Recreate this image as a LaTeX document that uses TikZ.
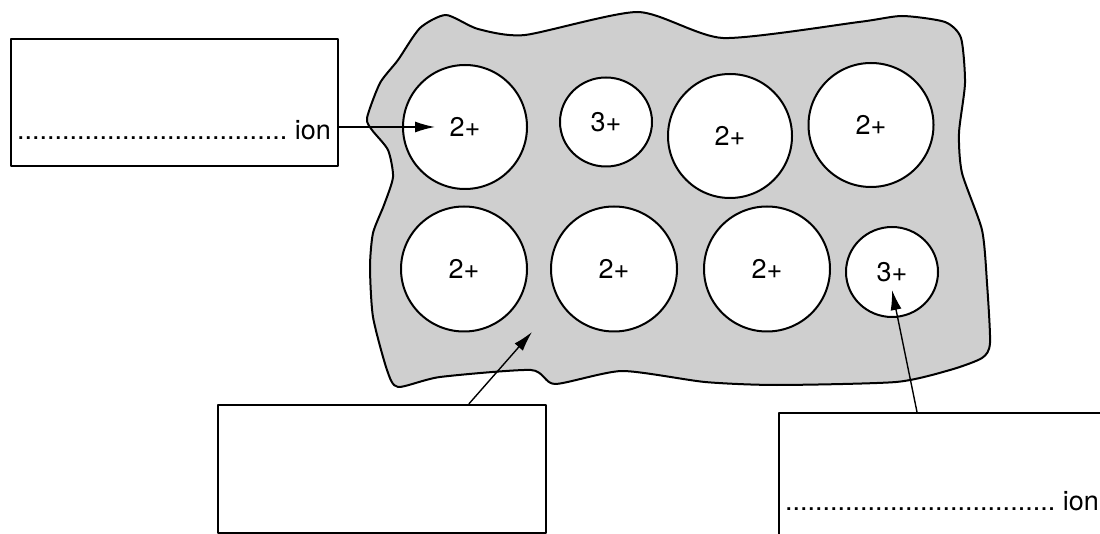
\documentclass[tikz,border=0pt]{standalone}
\usepackage{fontspec}
\setmainfont{TeX Gyre Heros}
\usetikzlibrary{shapes.geometric,arrows.meta}
\definecolor{matgray}{gray}{0.81}
\newcommand{\dotrow}{....................................}

\begin{document}
\begin{tikzpicture}[x=1pt,y=-1pt,line join=round,
    font=\fontsize{27pt}{32pt}\selectfont,
    ionsty/.style={ellipse,draw,line width=2pt,fill=white,inner sep=0pt},
    boxsty/.style={rectangle,draw,line width=1.6pt,anchor=north west,inner sep=0pt},
    arr/.style={line width=1.4pt,-{Latex[length=20pt,width=11pt]}}]
        \clip (0,0) rectangle (1100,534);
        % sea of electrons
        \filldraw[fill=matgray,line width=2pt] plot[smooth cycle,tension=0.4] coordinates {
            (446,15) (478,29) (525,35) (638,12) (723,38) (859,22) (902,16) (945,22)
            (961,38) (965,83) (959,133) (962,173) (982,230) (987,283) (990,343)
            (982,358) (950,370) (896,382) (777,385) (705,382) (622,371) (555,384) (531,370)
            (440,377) (398,387) (387,370) (373,317) (370,267) (373,233) (384,205)
            (393,177) (388,150) (372,130) (367,118) (380,83) (398,60) (420,28)};
        \begin{scope}[every node/.style={ionsty}]
        \node[minimum width=124,minimum height=124] (c1) at (465,127) {2+};
        \node[minimum width=92,minimum height=89] (c2) at (606,122) {3+};
        \node[minimum width=124,minimum height=124] (c3) at (730,136) {2+};
        \node[minimum width=125,minimum height=124] (c4) at (871,125) {2+};
        \node[minimum width=126,minimum height=125] (c5) at (464,269) {2+};
        \node[minimum width=126,minimum height=125] (c6) at (614,269) {2+};
        \node[minimum width=126,minimum height=125] (c7) at (767,269) {2+};
        \node[minimum width=92,minimum height=90] (c8) at (892,272) {3+};
        \end{scope}
        \node[boxsty,minimum width=327,minimum height=127] (lbox) at (10,38) {};
        \node[boxsty,minimum width=328,minimum height=128] (mbox) at (217,404) {};
        \node[boxsty,minimum width=340,minimum height=140] (rbox) at (778,412) {};
        \node[anchor=base east,inner sep=0pt] (ltxt) at (331,140) {\dotrow\ ion};
        \node[anchor=base east,inner sep=0pt] (rtxt) at (1099,510) {\dotrow\ ion};
        \coordinate (gap) at (532,332);
        \draw[arr] (lbox.east |- c1) -- ([xshift=-30]c1.center);
        \draw[arr] ([xshift=87]mbox.north) -- (gap);
        \draw[arr] ([xshift=139]rbox.north west) -- ([yshift=-18]c8.center);
    \end{tikzpicture}
\end{document}
